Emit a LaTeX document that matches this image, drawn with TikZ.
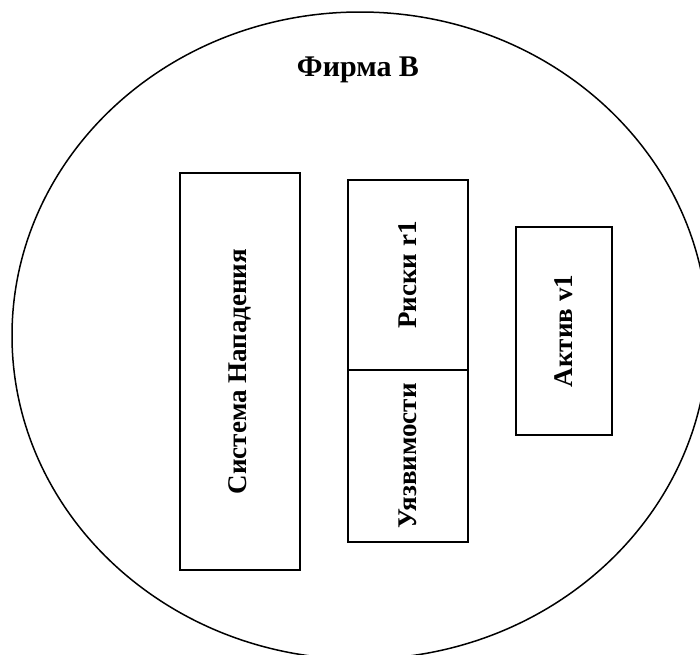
\documentclass[tikz,border=0pt]{standalone}
\usepackage{fontspec}
\setmainfont{Liberation Serif}
\begin{document}
\begin{tikzpicture}[x=1pt,y=-1pt,
  lbl/.style={font=\bfseries\fontsize{27}{31}\selectfont},
  ttl/.style={font=\bfseries\fontsize{30}{34}\selectfont},
  boxn/.style={draw,line width=1.7pt,inner sep=0pt,rotate=90}]
\useasboundingbox (0,0) rectangle (700,654);
\clip (0,0) rectangle (700,654);
\draw[line width=1.5pt] (360,335.6) ellipse [x radius=348, y radius=323.6];
\node[ttl] (title) at (358,70) {Фирма В};
\node[boxn,lbl,minimum width=397,minimum height=120] (sys) at (240,371.5) {Система Нападения};
\node[boxn,lbl,minimum width=190,minimum height=120] (risk) at (408,275) {Риски r1};
\node[boxn,lbl,minimum width=172,minimum height=120] (vuln) at (408,456) {Уязвимости};
\node[boxn,lbl,minimum width=208,minimum height=96] (asset) at (564,331) {Актив v1};
\end{tikzpicture}
\end{document}
